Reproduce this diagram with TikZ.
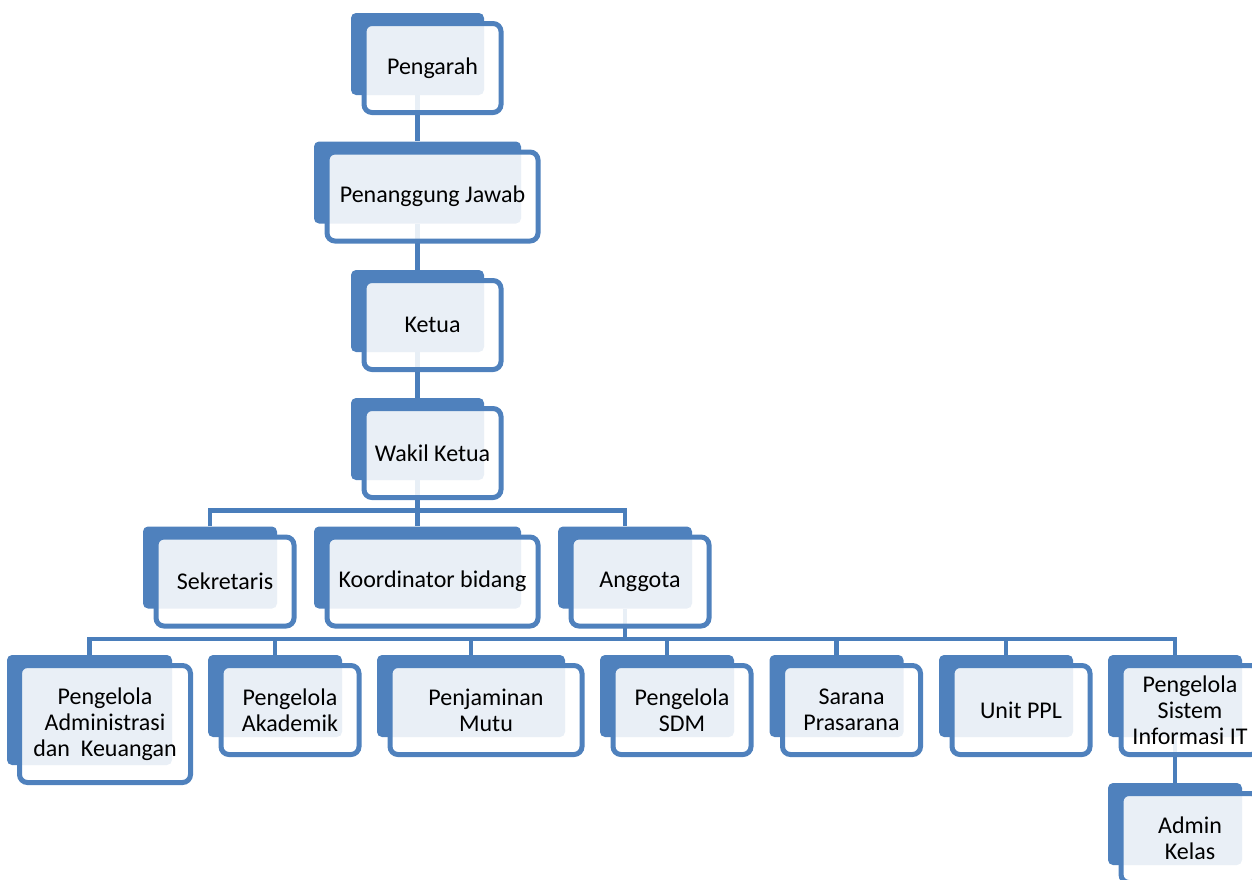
\documentclass[tikz,border=0pt]{standalone}
\usepackage{fontspec}
\setmainfont{Carlito}
\definecolor{boxblue}{HTML}{4F81BD}
\definecolor{linkblue}{HTML}{4A7EBB}

\begin{document}
\begin{tikzpicture}[x=1pt,y=-1pt]
  \useasboundingbox (0,0) rectangle (1252,879);
  \clip (0,0) rectangle (1252,879);
  \tikzstyle{Back}=[fill=boxblue,rounded corners=5,inner sep=0,minimum height=82]
  \tikzstyle{Front}=[draw=boxblue,line width=5,fill=white,fill opacity=0.88,
    text opacity=1,rounded corners=8,inner sep=0,minimum height=89,
    align=center,font=\fontsize{24}{26}\selectfont]
  \tikzstyle{Link}=[draw=linkblue,line width=4.5]
  % back boxes
  \node[Back,minimum width=133] (pengarah) at (417.5,54) {};
  \node[Back,minimum width=207] (pj) at (417.5,182.5) {};
  \node[Back,minimum width=133] (ketua) at (417.5,311) {};
  \node[Back,minimum width=133] (wakil) at (417.5,439) {};
  \node[Back,minimum width=134] (sekretaris) at (210,567.5) {};
  \node[Back,minimum width=207] (koordinator) at (417.5,567.5) {};
  \node[Back,minimum width=134] (anggota) at (625,567.5) {};
  \node[Back,minimum width=165,minimum height=110] (adminkeu) at (89.5,710) {};
  \node[Back,minimum width=134] (akademik) at (275,696) {};
  \node[Back,minimum width=188] (mutu) at (471,696) {};
  \node[Back,minimum width=134] (sdm) at (667,696) {};
  \node[Back,minimum width=134] (sarana) at (836.5,696) {};
  \node[Back,minimum width=134] (ppl) at (1006,696) {};
  \node[Back,minimum width=134] (sisteminfo) at (1175,696) {};
  \node[Back,minimum width=134] (adminkelas) at (1175,824) {};
  % connectors
  \draw[Link] (pengarah.south) -- (pj.north);
  \draw[Link] (pj.south) -- (ketua.north);
  \draw[Link] (ketua.south) -- (wakil.north);
  \coordinate (bus1) at (417.5,510.5);
  \draw[Link] (wakil.south) -- (bus1);
  \draw[Link] (sekretaris.north) |- (bus1) -| (anggota.north);
  \draw[Link] (bus1) -- (koordinator.north);
  \coordinate (bus2) at (625,639);
  \draw[Link] (anggota.south) -- (bus2);
  \draw[Link] (adminkeu.north) |- (bus2) -| (sisteminfo.north);
  \draw[Link] (akademik.north) -- (akademik.north |- bus2);
  \draw[Link] (mutu.north) -- (mutu.north |- bus2);
  \draw[Link] (sdm.north) -- (sdm.north |- bus2);
  \draw[Link] (sarana.north) -- (sarana.north |- bus2);
  \draw[Link] (ppl.north) -- (ppl.north |- bus2);
  \draw[Link] (sisteminfo.south) -- (adminkelas.north);
  % front boxes with the texts
  \node[Front,minimum width=137] (pengarah-txt) at ([shift={(15,14)}]pengarah) {Pengarah};
  \node[Front,minimum width=211] (pj-txt) at ([shift={(15,14)}]pj) {Penanggung Jawab};
  \node[Front,minimum width=137] (ketua-txt) at ([shift={(15,14)}]ketua) {Ketua};
  \node[Front,minimum width=137] (wakil-txt) at ([shift={(15,14)}]wakil) {Wakil Ketua};
  \node[Front,minimum width=138] (sekretaris-txt) at ([shift={(15,14)}]sekretaris) {Sekretaris};
  \node[Front,minimum width=211] (koordinator-txt) at ([shift={(15,14)}]koordinator) {Koordinator bidang};
  \node[Front,minimum width=138] (anggota-txt) at ([shift={(15,14)}]anggota) {Anggota};
  \node[Front,minimum width=171,minimum height=117] (adminkeu-txt) at ([shift={(15.5,14)}]adminkeu) {Pengelola\\Administrasi\\dan\ \ Keuangan};
  \node[Front,minimum width=138] (akademik-txt) at ([shift={(15,14)}]akademik) {Pengelola\\Akademik};
  \node[Front,minimum width=192] (mutu-txt) at ([shift={(15,14)}]mutu) {Penjaminan\\Mutu};
  \node[Front,minimum width=138] (sdm-txt) at ([shift={(15,14)}]sdm) {Pengelola\\SDM};
  \node[Front,minimum width=138] (sarana-txt) at ([shift={(15,14)}]sarana) {Sarana\\Prasarana};
  \node[Front,minimum width=138] (ppl-txt) at ([shift={(15,14)}]ppl) {Unit PPL};
  \node[Front,minimum width=138] (sisteminfo-txt) at ([shift={(15,14)}]sisteminfo) {Pengelola\\Sistem\\Informasi IT};
  \node[Front,minimum width=138] (adminkelas-txt) at ([shift={(15,14)}]adminkelas) {Admin\\Kelas};
\end{tikzpicture}
\end{document}
